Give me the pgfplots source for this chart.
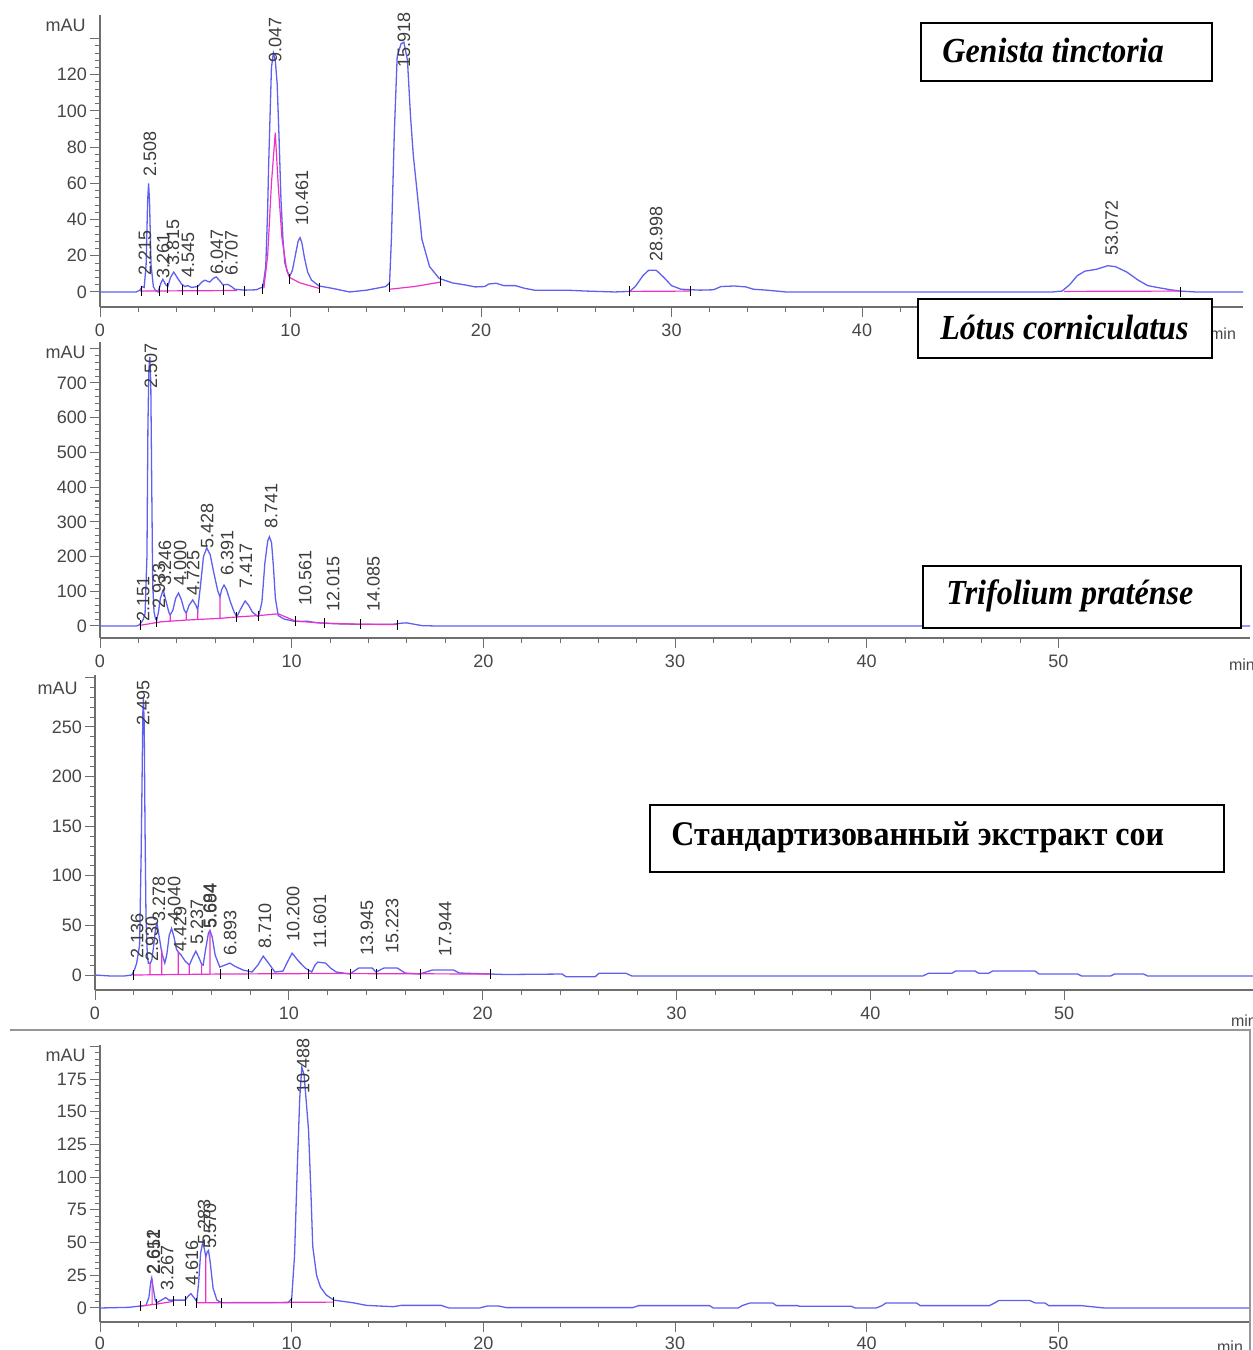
\documentclass[border=0pt]{standalone}
\usepackage{pgfplots}
\pgfplotsset{compat=1.18}
\usepackage{fontspec}
\usepackage{graphicx}
\setmainfont{Liberation Sans}
\newfontfamily\tnr{Liberation Serif}
\definecolor{trace}{RGB}{95,95,240}
\definecolor{pk}{RGB}{235,50,200}
\definecolor{axgray}{RGB}{110,110,110}
\definecolor{tickgray}{RGB}{70,70,70}
\definecolor{lblgray}{RGB}{60,60,60}
\tikzset{lbl/.style={rotate=90, anchor=west, inner sep=0.6pt, font=\fontsize{9}{9}\selectfont, text=lblgray}}
\pgfplotsset{
  chrom/.style={
    scale only axis, clip=false,
    axis lines*=left,
    xmin=0, xmax=60,
    xtick={0,10,...,50},
    minor x tick num=4,
    minor y tick num=4,
    tick align=outside,
    major tick length=5pt, minor tick length=2.5pt,
    axis line style={draw=axgray, line width=0.9pt},
    tick style={draw=axgray, line width=0.5pt},
    tick label style={font=\fontsize{9}{9}\selectfont, text=tickgray},
    yticklabel style={xshift=2pt},
    /pgf/number format/assume math mode=true,
    anchor=south west,
  },
  tr/.style={draw=trace, line width=0.65pt, mark=none},
  bl/.style={draw=pk, line width=0.6pt, mark=none, unbounded coords=jump},
  bt/.style={only marks, mark=|, mark size=2.5pt, black, mark options={line width=0.5pt}},
}
\begin{document}
\begin{tikzpicture}
\useasboundingbox (0,0) rectangle (626.5pt,675pt);

% ---------- Panel 1 : Genista tinctoria ----------
\begin{axis}[chrom, at={(50pt,521.5pt)}, width=571.5pt, height=146pt,
  ymin=-8.3, ymax=153, ytick={0,20,...,140},
  yticklabels={0,20,40,60,80,100,120,{}},
  xticklabels={0,10,20,30,40,{}}]
\addplot[tr] coordinates {(0,0) (1.9,0) (2.1,1) (2.2,3) (2.32,2.5) (2.42,15) (2.5,50) (2.55,60) (2.6,50) (2.68,15) (2.8,3) (2.9,1) (3.05,0) (3.2,5) (3.3,7) (3.45,4) (3.56,3) (3.7,8) (3.87,11) (4.05,8) (4.27,4.5) (4.45,3) (4.6,3.5) (4.8,2.5) (5.13,3) (5.35,5.5) (5.5,6.5) (5.76,5.5) (5.95,7.5) (6.1,8.3) (6.3,6) (6.45,3.9) (6.7,4.2) (6.9,3) (7.07,1.5) (7.6,1) (8.2,1.2) (8.55,2.8) (8.7,14) (8.8,45) (8.85,69) (9.0,124) (9.1,132) (9.2,128) (9.3,115) (9.4,85) (9.5,51) (9.6,30) (9.7,16) (9.85,11) (9.95,8.5) (10.1,12) (10.25,20) (10.4,28) (10.5,30) (10.6,27) (10.73,19) (10.9,11) (11.1,6.6) (11.5,3.3) (12.2,2) (13.1,0) (14,1) (15.0,3) (15.2,5) (15.3,30) (15.45,88) (15.6,130) (15.8,137) (15.95,138) (16.14,128) (16.3,97) (16.45,75) (16.6,60) (16.9,29) (17.3,14) (17.8,7.5) (18.5,5) (19.1,4) (19.7,2.8) (20.2,3) (20.4,4.4) (20.8,4.8) (21.2,3.5) (21.8,3.5) (22.3,2) (22.8,1) (24.5,1) (25.5,0.5) (27,0) (27.8,0.3) (28.1,3) (28.5,9) (28.8,12) (29.2,12) (29.6,8) (30.0,3.5) (30.5,1.5) (31.5,1) (32.2,1.2) (32.6,3) (33.3,3.3) (33.9,2.8) (34.3,1.5) (35,1) (36,0) (45,0) (50,0) (50.5,0.5) (50.9,4) (51.3,9) (51.7,11.5) (52.3,12.5) (52.9,14.5) (53.3,14) (53.9,11) (54.5,6.5) (55,3.5) (55.5,2.5) (56.2,1.2) (56.7,0.5) (57.5,0) (60,0)};
\addplot[bl] coordinates {(2.1,0.5) (7.2,0.8) (7.2,nan) (8.6,2) (8.8,20) (9.0,60) (9.2,88) (9.35,60) (9.55,30) (9.8,12) (9.95,8) (10.5,5) (11.5,2) (11.5,nan) (15.2,1.5) (16.5,3) (17.9,5.5) (17.9,nan) (27.8,0.3) (31,0.5) (31,nan) (50.6,0.3) (56.7,0.5)};
\addplot[bt] coordinates {(2.2,0.5) (3.14,0.5) (3.56,2) (4.35,1) (5.13,1) (6.5,1) (7.6,0.5) (8.55,1.5) (9.95,7) (11.5,2) (15.2,3) (17.9,6) (27.8,0.5) (31,0.5) (56.7,0)};
\node[lbl] at (axis cs:2.36,8) {2.215};
\node[lbl] at (axis cs:2.62,63) {2.508};
\node[lbl] at (axis cs:3.31,6.6) {3.261};
\node[lbl] at (axis cs:3.83,14) {3.815};
\node[lbl] at (axis cs:4.62,7) {4.545};
\node[lbl] at (axis cs:6.14,9) {6.047};
\node[lbl] at (axis cs:6.9,8.3) {6.707};
\node[lbl] at (axis cs:9.19,126) {9.047};
\node[lbl] at (axis cs:10.6,36) {10.461};
\node[lbl] at (axis cs:15.96,123) {15.918};
\node[lbl] at (axis cs:29.19,16) {28.998};
\node[lbl] at (axis cs:53.1,19) {53.072};
\node[anchor=north east, font=\fontsize{8}{8}\selectfont, text=tickgray] at (rel axis cs:1,0) [yshift=-7pt] {min};
\end{axis}

% ---------- Panel 2 : Lotus corniculatus ----------
\begin{axis}[chrom, at={(50pt,356pt)}, width=575pt, height=148pt,
  ymin=-34.6, ymax=818, ytick={0,100,...,800},
  yticklabels={0,100,200,300,400,500,600,700,{}}]
\addplot[tr] coordinates {(0,0) (1.9,0) (2.05,3) (2.15,10) (2.25,18) (2.35,35) (2.45,200) (2.5,573) (2.55,740) (2.6,775) (2.65,700) (2.7,400) (2.75,120) (2.82,40) (2.9,20) (2.96,17) (3.05,40) (3.15,80) (3.3,104) (3.45,70) (3.6,38) (3.66,32) (3.8,45) (3.95,80) (4.1,95) (4.25,75) (4.4,45) (4.5,37) (4.65,60) (4.84,75) (5.0,60) (5.1,46) (5.25,120) (5.4,200) (5.57,225) (5.75,205) (5.95,150) (6.15,100) (6.26,84) (6.35,105) (6.47,118) (6.6,105) (6.8,70) (7.0,40) (7.14,26) (7.3,45) (7.57,72) (7.75,60) (7.95,40) (8.27,26) (8.45,70) (8.6,180) (8.75,245) (8.84,257) (8.95,240) (9.05,170) (9.15,80) (9.3,30) (9.6,20) (10.1,14) (10.5,13) (10.8,14) (11.2,10) (11.7,8) (12.5,6) (13.5,5) (14.5,5) (15.3,5) (15.7,8) (16,9) (16.4,5) (16.8,1) (17.5,0) (30,0) (60,0)};
\addplot[bl] coordinates {(2.1,2) (3.18,12) (4.5,17) (6.26,22) (7.14,26) (8.27,30) (9.3,35) (10.2,14) (11.7,8) (13.6,5) (15.5,4) (15.5,nan) (3.66,14) (3.66,32) (3.66,nan) (4.5,17) (4.5,37) (4.5,nan) (5.1,19) (5.1,46) (5.1,nan) (6.26,22) (6.26,84)};
\addplot[bt] coordinates {(2.1,2) (2.96,12) (7.14,26) (8.27,30) (10.2,14) (11.7,8) (13.6,5) (15.5,4)};
\node[lbl] at (axis cs:2.25,9) {2.151};
\node[lbl] at (axis cs:2.66,680) {2.507};
\node[lbl] at (axis cs:3.08,46) {2.933};
\node[lbl] at (axis cs:3.39,112) {3.246};
\node[lbl] at (axis cs:4.18,112) {4.000};
\node[lbl] at (axis cs:4.86,84) {4.725};
\node[lbl] at (axis cs:5.59,219) {5.428};
\node[lbl] at (axis cs:6.63,141) {6.391};
\node[lbl] at (axis cs:7.62,104) {7.417};
\node[lbl] at (axis cs:8.93,277) {8.741};
\node[lbl] at (axis cs:10.7,55) {10.561};
\node[lbl] at (axis cs:12.17,37) {12.015};
\node[lbl] at (axis cs:14.26,37) {14.085};
\node[anchor=north west, font=\fontsize{8}{8}\selectfont, text=tickgray] at (rel axis cs:1,0) [xshift=-14pt, yshift=-7pt] {min};
\end{axis}

% ---------- Panel 3 ----------
\begin{axis}[chrom, at={(47.5pt,180pt)}, width=581.5pt, height=157.3pt,
  ymin=-15.1, ymax=302, ytick={0,50,...,300},
  yticklabels={0,50,100,150,200,250,{}}]
\addplot[tr] coordinates {(0,0) (0.8,-1) (1.5,-1) (1.9,0) (2.05,6) (2.15,12) (2.3,30) (2.38,120) (2.43,200) (2.47,265) (2.5,279) (2.54,250) (2.58,150) (2.63,60) (2.7,20) (2.75,12) (2.85,12) (2.93,15) (3.03,30) (3.13,48) (3.2,52) (3.3,40) (3.45,22) (3.6,12) (3.7,20) (3.83,40) (3.95,47) (4.08,38) (4.2,26) (4.3,23) (4.45,20) (4.65,14) (4.87,10) (5.0,16) (5.2,24) (5.35,18) (5.5,11) (5.58,10) (5.7,25) (5.85,42) (5.93,45) (6.05,38) (6.2,20) (6.44,8) (6.7,10) (6.96,12) (7.2,9) (7.64,5) (8.1,3) (8.4,10) (8.68,19) (8.95,12) (9.28,3) (9.7,4) (9.95,14) (10.17,22) (10.5,14) (10.85,7) (11.18,3) (11.35,10) (11.5,13) (11.9,12) (12.15,7) (12.45,3) (13.15,1) (13.6,7) (14.3,7) (14.5,3) (14.9,7) (15.6,7) (16.0,2) (16.75,1) (17.4,5) (18.5,5) (18.8,2) (20.4,1) (21.2,0.5) (24.1,1) (24.3,-1.7) (25.8,-1.7) (26.0,1.7) (27.4,1.7) (27.7,-1) (42.7,-1) (43,1.7) (44.2,1.7) (44.4,4) (45.4,4) (45.6,1.7) (46.1,1.7) (46.3,4) (48.5,4) (48.7,1) (50.7,1) (50.9,-1) (52.4,-1) (52.6,1) (54.1,1) (54.3,-1) (60,-1)};
\addplot[bl] coordinates {(1.95,0) (6.5,1) (12,1.5) (20.4,1) (20.4,nan) (2.84,0.5) (2.84,12) (2.84,nan) (3.44,0.6) (3.44,25) (3.44,nan) (4.3,0.7) (4.3,23) (4.3,nan) (4.86,0.8) (4.86,10) (4.86,nan) (5.5,0.9) (5.5,11) (5.5,nan) (5.93,0.9) (5.93,45)};
\addplot[bt] coordinates {(1.97,0) (6.5,1) (7.9,1) (9.1,1.5) (11.0,1.5) (13.2,1.5) (14.5,1.5) (16.8,1) (20.4,1)};
\node[lbl] at (axis cs:2.17,15) {2.136};
\node[lbl] at (axis cs:2.48,250) {2.495};
\node[lbl] at (axis cs:2.94,12) {2.930};
\node[lbl] at (axis cs:3.3,52) {3.278};
\node[lbl] at (axis cs:4.08,52) {4.040};
\node[lbl] at (axis cs:4.39,22) {4.429};
\node[lbl] at (axis cs:5.26,29) {5.237};
\node[lbl] at (axis cs:5.91,45) {5.684};
\node[lbl] at (axis cs:5.96,45) {5.694};
\node[lbl] at (axis cs:6.97,18) {6.893};
\node[lbl] at (axis cs:8.77,25) {8.710};
\node[lbl] at (axis cs:10.22,32) {10.200};
\node[lbl] at (axis cs:11.61,25) {11.601};
\node[lbl] at (axis cs:14.03,18) {13.945};
\node[lbl] at (axis cs:15.33,20) {15.223};
\node[lbl] at (axis cs:18.06,17) {17.944};
\node[anchor=north west, font=\fontsize{8}{8}\selectfont, text=tickgray] at (rel axis cs:1,0) [xshift=-17pt, yshift=-9pt] {min};
\end{axis}

% ---------- Panel 4 ----------
\begin{axis}[chrom, at={(50pt,14pt)}, width=575pt, height=138.5pt,
  ymin=-10.7, ymax=201, ytick={0,25,...,200},
  yticklabels={0,25,50,75,100,125,150,175,{}},
  xticklabel style={yshift=1pt}]
\addplot[tr] coordinates {(0,0) (1.5,0.5) (2.09,1.5) (2.4,2) (2.55,8) (2.65,20) (2.7,23) (2.78,15) (2.88,6) (2.96,4) (3.2,6) (3.43,8) (3.6,6) (3.83,6) (4.44,6) (4.6,9) (4.74,11) (4.9,8) (5.05,5) (5.15,20) (5.25,42) (5.36,50) (5.45,45) (5.52,39) (5.6,43) (5.66,44) (5.75,35) (5.9,15) (6.1,6) (6.35,4) (8,4) (9.8,4) (10.0,7) (10.15,40) (10.3,110) (10.42,160) (10.53,184) (10.65,178) (10.88,136) (11.0,90) (11.1,47) (11.3,25) (11.5,16) (11.8,10) (12.2,6) (13.2,4) (13.9,2) (15.3,1) (15.7,2) (17.8,2) (18.2,0) (19.8,0) (20.2,1.5) (20.8,1.5) (21.2,0.3) (27.8,0.3) (28.1,1.8) (31.8,1.8) (32,0) (33.3,0) (33.5,1.8) (33.9,3.8) (35.1,3.8) (35.3,1.8) (36.4,1.8) (36.5,1.3) (39.2,1.3) (39.4,0) (40.5,0) (40.8,1.8) (41,3.8) (42.6,3.8) (42.8,1.8) (46.4,1.8) (46.7,4) (46.9,5.8) (48.5,5.8) (48.8,3.8) (49.3,3.8) (49.5,1.8) (51.2,1.8) (52.4,0) (60,0)};
\addplot[bl] coordinates {(2.1,1.5) (2.96,3) (3.8,5) (3.8,nan) (5.05,4) (12.2,4.5) (12.2,nan) (2.72,2.2) (2.72,22) (2.72,nan) (5.52,4) (5.52,39)};
\addplot[bt] coordinates {(2.09,1.5) (2.96,3) (3.83,5) (4.44,5) (5.05,4) (6.35,4) (10.0,4) (12.2,4.5)};
\node[lbl] at (axis cs:2.77,24) {2.612};
\node[lbl] at (axis cs:2.82,24) {2.651};
\node[lbl] at (axis cs:3.5,12) {3.267};
\node[lbl] at (axis cs:4.8,16) {4.616};
\node[lbl] at (axis cs:5.43,47) {5.283};
\node[lbl] at (axis cs:5.74,44) {5.570};
\node[lbl] at (axis cs:10.6,163) {10.488};
\node[anchor=north east, font=\fontsize{8}{8}\selectfont, text=tickgray] at (rel axis cs:1,0) [yshift=-6pt] {min};
\end{axis}

% mAU labels
\node[anchor=east, font=\fontsize{9}{9}\selectfont, text=tickgray, inner sep=0pt] at (43pt,662.5pt) {mAU};
\node[anchor=east, font=\fontsize{9}{9}\selectfont, text=tickgray, inner sep=0pt] at (43pt,499pt) {mAU};
\node[anchor=east, font=\fontsize{9}{9}\selectfont, text=tickgray, inner sep=0pt] at (39pt,331pt) {mAU};
\node[anchor=east, font=\fontsize{9}{9}\selectfont, text=tickgray, inner sep=0pt] at (43pt,147.5pt) {mAU};

% separator lines
\draw[draw={rgb,255:red,150;green,150;blue,150}, line width=1pt] (5pt,160pt) -- (625pt,160pt) -- (625pt,0pt);

% title boxes
\draw[black, line width=1pt, fill=white] (460.5pt,663.5pt) rectangle (606pt,634.5pt);
\node[anchor=base west, inner sep=0pt] at (471pt,643.5pt) {\scalebox{1}[1.1]{\tnr\fontsize{16}{16}\selectfont\bfseries\itshape Genista tinctoria}};
\draw[black, line width=1pt, fill=white] (459pt,525.5pt) rectangle (606pt,496pt);
\node[anchor=base west, inner sep=0pt] at (470pt,505pt) {\scalebox{1}[1.1]{\tnr\fontsize{16}{16}\selectfont\bfseries\itshape Lótus corniculatus}};
\draw[black, line width=1pt, fill=white] (461.5pt,392pt) rectangle (620.5pt,361pt);
\node[anchor=base west, inner sep=0pt] at (473pt,372.5pt) {\scalebox{1}[1.1]{\tnr\fontsize{16}{16}\selectfont\bfseries\itshape Trifolium praténse}};
\draw[black, line width=1pt, fill=white] (325pt,272.5pt) rectangle (612pt,239pt);
\node[anchor=base west, inner sep=0pt] at (335.5pt,252pt) {\scalebox{1}[1.08]{\tnr\fontsize{16}{16}\selectfont\bfseries Стандартизованный экстракт сои}};
\end{tikzpicture}
\end{document}
